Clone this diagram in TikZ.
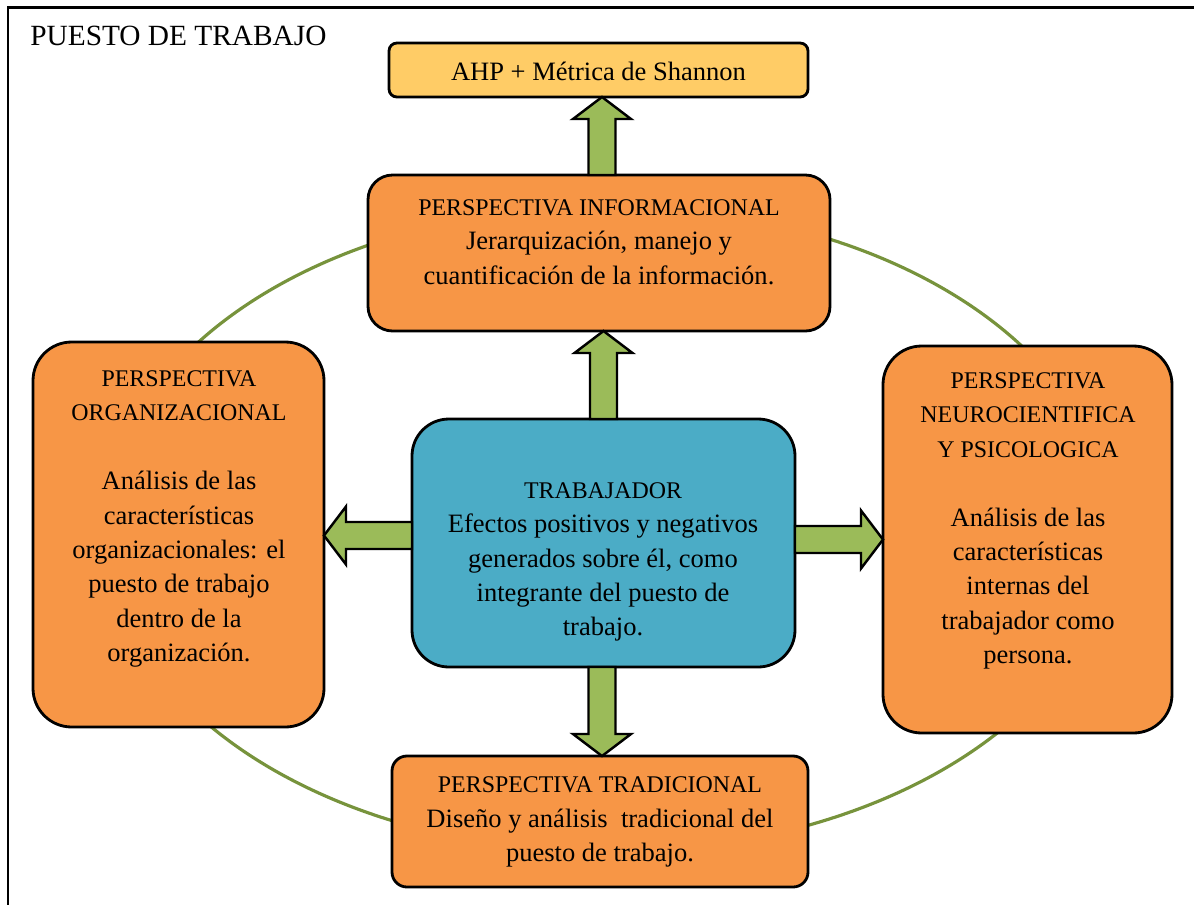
\documentclass[tikz,border=0pt]{standalone}
\usepackage{fontspec}
\setmainfont{Liberation Serif}
\usetikzlibrary{calc}

\definecolor{boxorange}{HTML}{F79646}
\definecolor{boxblue}{HTML}{4BACC6}
\definecolor{boxyellow}{HTML}{FFCC66}
\definecolor{arrowgreen}{HTML}{9BBB59}
\definecolor{ringgreen}{HTML}{77933C}

% block arrow measures (px units)
\newcommand\bashaft{13.5}
\newcommand\bahead{29}
\newcommand\balen{22}

% vertical block arrow: #1 base, #2 tip, #3 = 1 pointing up, -1 pointing down
\newcommand\vblockarrow[3]{%
  \draw[blockarrow] ($(#1)+(-\bashaft,0)$) -- ($(#2)+(-\bashaft,#3*\balen)$)
    -- ($(#2)+(-\bahead,#3*\balen)$) -- (#2) -- ($(#2)+(\bahead,#3*\balen)$)
    -- ($(#2)+(\bashaft,#3*\balen)$) -- ($(#1)+(\bashaft,0)$) -- cycle;}
% horizontal block arrow: #1 base, #2 tip, #3 = 1 pointing right, -1 pointing left
\newcommand\hblockarrow[3]{%
  \draw[blockarrow] ($(#1)+(0,-\bashaft)$) -- ($(#2)+(-#3*\balen,-\bashaft)$)
    -- ($(#2)+(-#3*\balen,-\bahead)$) -- (#2) -- ($(#2)+(-#3*\balen,\bahead)$)
    -- ($(#2)+(-#3*\balen,\bashaft)$) -- ($(#1)+(0,\bashaft)$) -- cycle;}

\newcommand\headfont{\fontsize{13.6pt}{19.6pt}\selectfont}

\tikzset{
  box/.style={draw=black, line width=1.6pt, inner sep=0pt, outer sep=0pt},
  orangebox/.style={box, fill=boxorange},
  boxtext/.style={align=center, inner sep=0pt, font=\fontsize{15.1pt}{19.6pt}\selectfont},
  blockarrow/.style={draw=black, line width=1.4pt, fill=arrowgreen, line join=miter},
}

\begin{document}
\begin{tikzpicture}[x=0.02cm, y=-0.02cm]
\useasboundingbox (0,0) rectangle (1194,904);
\fill[white] (0,0) rectangle (1194,904);

% outer frame
\draw[line width=1.7pt] (8,7) rectangle (1230,940);
\node[anchor=base west, inner sep=0pt, font=\fontsize{16.7pt}{20pt}\selectfont] (title) at (30,45) {PUESTO DE TRABAJO};

% ring behind the boxes
\draw[ringgreen, line width=1.8pt] (608,529) ellipse [x radius=502, y radius=323];

% boxes
\node[box, fill=boxyellow, rounded corners=4.5pt, minimum width=419*0.02cm, minimum height=54*0.02cm] (ahp) at (598.5,70) {};
\node[orangebox, rounded corners=14pt, minimum width=462*0.02cm, minimum height=156*0.02cm] (info) at (599,253) {};
\node[orangebox, rounded corners=22pt, minimum width=291*0.02cm, minimum height=385*0.02cm] (org) at (178.5,534.5) {};
\node[orangebox, rounded corners=22pt, minimum width=289*0.02cm, minimum height=387*0.02cm] (neuro) at (1027.5,539.5) {};
\node[box, fill=boxblue, rounded corners=21pt, minimum width=383*0.02cm, minimum height=248*0.02cm] (trab) at (603.5,543) {};
\node[orangebox, rounded corners=8.5pt, minimum width=416*0.02cm, minimum height=131*0.02cm] (trad) at (600,821.5) {};

% texts
\node[boxtext] (ahptxt) at (598.5,71) {AHP + Métrica de Shannon};
\node[boxtext] (infotxt) at (599,242) {{\headfont PERSPECTIVA INFORMACIONAL}\\Jerarquización, manejo y\\cuantificación de la información.};
\node[boxtext] (orgtxt) at (179,519) {{\headfont PERSPECTIVA}\\{\headfont ORGANIZACIONAL}\\[19.6pt]Análisis de las\\características\\organizacionales: el\\puesto de trabajo\\dentro de la\\organización.};
\node[boxtext] (neurotxt) at (1028,521) {{\headfont PERSPECTIVA}\\{\headfont NEUROCIENTIFICA}\\{\headfont Y PSICOLOGICA}\\[19.6pt]Análisis de las\\características\\internas del\\trabajador como\\persona.};
\node[boxtext] (trabtxt) at (603,562) {{\headfont TRABAJADOR}\\Efectos positivos y negativos\\generados sobre él, como\\integrante del puesto de\\trabajo.};
\node[boxtext] (tradtxt) at (600,822) {{\headfont PERSPECTIVA TRADICIONAL}\\Diseño y análisis~ tradicional del\\puesto de trabajo.};

% arrow axes
\coordinate (ax1) at (602,0);
\coordinate (ax2) at (603.5,0);
\coordinate (ay1) at (0,535.5);
\coordinate (ay2) at (0,539.5);

% block arrows between the boxes
\vblockarrow{info.north -| ax1}{ahp.south -| ax1}{1}
\vblockarrow{trab.north -| ax2}{info.south -| ax2}{1}
\vblockarrow{trab.south -| ax1}{trad.north -| ax1}{-1}
\hblockarrow{trab.west |- ay1}{org.east |- ay1}{-1}
\hblockarrow{trab.east |- ay2}{neuro.west |- ay2}{1}
\end{tikzpicture}
\end{document}
